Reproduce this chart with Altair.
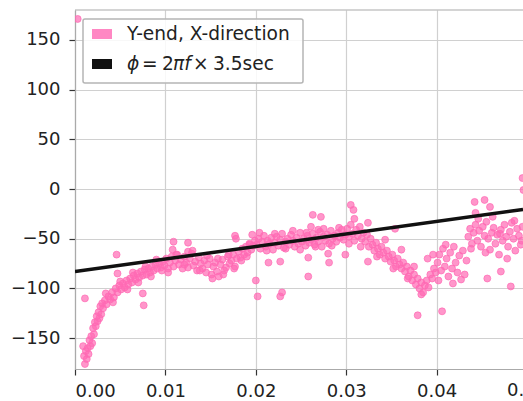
import altair as alt
import pandas as pd

# ---- measured phase of the Y-end response, X-direction excitation ----
# early steep rise
start_x = [0.0003, 0.0009, 0.0010, 0.0011, 0.0011, 0.0012, 0.0013, 0.0014, 0.0015, 0.0016,
           0.0017, 0.0018, 0.0019, 0.0020, 0.0021, 0.0022, 0.0023, 0.0024, 0.0025, 0.0026,
           0.0027, 0.0028, 0.0029, 0.0030]
start_y = [171, -158, -168, -176, -110, -163, -171, -160, -166, -152,
           -158, -148, -155, -140, -146, -134, -138, -128, -133, -124,
           -130, -118, -126, -115]

rise_x = [0.0031, 0.0033, 0.0035, 0.0037, 0.0039, 0.0041, 0.0043, 0.0045, 0.0047, 0.0049,
          0.0051, 0.0053, 0.0055, 0.0057, 0.0059, 0.0061, 0.0063, 0.0065, 0.0067, 0.0069,
          0.0071, 0.0073, 0.0075, 0.0077, 0.0079, 0.0081, 0.0083, 0.0085, 0.0087, 0.0089,
          0.0091, 0.0093, 0.0095, 0.0097, 0.0099,
          0.0034, 0.0042, 0.0050, 0.0058, 0.0064, 0.0070, 0.0078, 0.0084, 0.0090, 0.0096,
          0.0046, 0.0047, 0.0076, 0.0075]
rise_y = [-120, -112, -116, -108, -111, -104, -109, -100, -104, -97,
          -101, -95, -99, -92, -96, -90, -94, -87, -91, -85,
          -89, -83, -87, -81, -86, -80, -84, -78, -82, -76,
          -80, -75, -79, -73, -77,
          -105, -114, -93, -101, -84, -94, -78, -88, -71, -82,
          -66, -85, -117, -105]

band1_x = [0.0101, 0.0103, 0.0105, 0.0107, 0.0109, 0.0111, 0.0113, 0.0115, 0.0117, 0.0119,
           0.0121, 0.0123, 0.0125, 0.0127, 0.0129, 0.0131, 0.0133, 0.0135, 0.0137, 0.0139,
           0.0141, 0.0143, 0.0145, 0.0147, 0.0149, 0.0151, 0.0153, 0.0155, 0.0157, 0.0159,
           0.0161, 0.0163, 0.0165, 0.0167, 0.0169, 0.0171, 0.0173, 0.0175, 0.0177, 0.0179,
           0.0181, 0.0183, 0.0185, 0.0187, 0.0189, 0.0191, 0.0193, 0.0195, 0.0197, 0.0199,
           0.0103, 0.0112, 0.0121, 0.0130, 0.0138, 0.0146, 0.0152, 0.0158, 0.0164, 0.0170,
           0.0176, 0.0184, 0.0190,
           0.0109, 0.0108, 0.0125, 0.0125, 0.0177, 0.0178, 0.0196, 0.0193, 0.0200, 0.0202]
band1_y = [-70, -80, -74, -68, -78, -72, -66, -76, -71, -80,
           -68, -74, -79, -70, -65, -77, -73, -82, -69, -75,
           -80, -72, -84, -76, -70, -86, -78, -74, -83, -88,
           -76, -71, -82, -79, -68, -75, -72, -66, -78, -70,
           -63, -69, -60, -66, -58, -64, -55, -61, -57, -52,
           -84, -66, -76, -62, -82, -67, -90, -70, -86, -66,
           -80, -72, -68,
           -53, -61, -54, -63, -47, -50, -46, -56, -92, -108]

band2_x = [0.0201, 0.0203, 0.0205, 0.0207, 0.0209, 0.0211, 0.0213, 0.0215, 0.0217, 0.0219,
           0.0221, 0.0223, 0.0225, 0.0227, 0.0229, 0.0231, 0.0233, 0.0235, 0.0237, 0.0239,
           0.0241, 0.0243, 0.0245, 0.0247, 0.0249, 0.0251, 0.0253, 0.0255, 0.0257, 0.0259,
           0.0261, 0.0263, 0.0265, 0.0267, 0.0269, 0.0271, 0.0273, 0.0275, 0.0277, 0.0279,
           0.0281, 0.0283, 0.0285, 0.0287, 0.0289, 0.0291, 0.0293, 0.0295, 0.0297, 0.0299,
           0.0204, 0.0212, 0.0221, 0.0233, 0.0241, 0.0249, 0.0256, 0.0266, 0.0275, 0.0284,
           0.0292,
           0.0263, 0.0272, 0.0261, 0.0269, 0.0214, 0.0227, 0.0258, 0.0258, 0.0280, 0.0281,
           0.0299, 0.0227, 0.0229]
band2_y = [-56, -50, -60, -53, -47, -58, -52, -55, -49, -61,
           -54, -48, -57, -51, -45, -59, -53, -50, -56, -46,
           -52, -58, -49, -55, -44, -53, -50, -57, -47, -54,
           -51, -45, -56, -49, -53, -43, -58, -48, -52, -46,
           -55, -42, -50, -47, -53, -44, -49, -41, -51, -46,
           -44, -62, -45, -60, -42, -61, -44, -58, -40, -57,
           -39,
           -26, -28, -38, -41, -74, -73, -69, -88, -65, -74,
           -66, -108, -104]

band3_x = [0.0301, 0.0303, 0.0305, 0.0307, 0.0309, 0.0311, 0.0313, 0.0315, 0.0317, 0.0319,
           0.0321, 0.0323, 0.0325, 0.0327, 0.0329, 0.0331, 0.0333, 0.0335, 0.0337, 0.0339,
           0.0341, 0.0343, 0.0345, 0.0347, 0.0349, 0.0351, 0.0353, 0.0355, 0.0357, 0.0359,
           0.0361, 0.0363, 0.0365, 0.0367, 0.0369, 0.0371, 0.0373, 0.0375, 0.0377, 0.0379,
           0.0381, 0.0383, 0.0385, 0.0387, 0.0389, 0.0391, 0.0393, 0.0395, 0.0397, 0.0399,
           0.0303, 0.0309, 0.0316, 0.0324, 0.0334, 0.0343, 0.0352, 0.0361, 0.0368, 0.0375,
           0.0383, 0.0390, 0.0396,
           0.0305, 0.0308, 0.0379, 0.0324, 0.0354]
band3_y = [-40, -48, -36, -45, -52, -41, -47, -38, -50, -44,
           -53, -46, -58, -50, -56, -62, -54, -60, -66, -58,
           -64, -70, -62, -68, -73, -66, -72, -78, -70, -76,
           -80, -74, -83, -78, -88, -82, -92, -86, -96, -90,
           -100, -94, -104, -97, -92, -99, -86, -90, -80, -84,
           -55, -30, -58, -34, -68, -51, -80, -61, -90, -78,
           -106, -70, -66,
           -16, -21, -127, -73, -40]

band4_x = [0.0401, 0.0403, 0.0405, 0.0407, 0.0409, 0.0411, 0.0413, 0.0415, 0.0417, 0.0419,
           0.0421, 0.0423, 0.0425, 0.0427, 0.0429, 0.0431, 0.0433, 0.0402, 0.0410, 0.0418,
           0.0435, 0.0437, 0.0439, 0.0441, 0.0443, 0.0445, 0.0447, 0.0449, 0.0451, 0.0453,
           0.0455, 0.0457, 0.0459, 0.0461, 0.0463, 0.0465, 0.0467, 0.0469, 0.0471, 0.0473,
           0.0475, 0.0477, 0.0479, 0.0481, 0.0483, 0.0485, 0.0487, 0.0489, 0.0491, 0.0493,
           0.0495, 0.0438, 0.0446, 0.0454, 0.0462, 0.0470, 0.0478, 0.0486, 0.0494,
           0.0442, 0.0453, 0.0443, 0.0459, 0.0495, 0.0496, 0.0456, 0.0471, 0.0482, 0.0406]
band4_y = [-74, -66, -82, -60, -78, -70, -88, -64, -80, -58,
           -74, -84, -67, -91, -62, -86, -72, -92, -56, -95,
           -48, -40, -55, -44, -36, -52, -42, -58, -38, -47,
           -33, -50, -61, -44, -39, -55, -46, -66, -41, -52,
           -36, -48, -58, -43, -34, -50, -62, -40, -47, -56,
           -38, -60, -30, -64, -28, -45, -70, -32, -52,
           -13, -11, -24, -18, 11, -1, -90, -83, -98, -123]

# reference phase line  phi = 2*pi*f*3.5 s (degrees, offset)
line_x = [0.0, 0.04955]
line_y = [-83.0, -20.6]

x_ticks = [0.00, 0.01, 0.02, 0.03, 0.04]
y_ticks = [-150, -100, -50, 0, 50, 100, 150]
X_MAX = 0.04955
Y_DOMAIN = [-181, 180]

W, H = 448, 359
PINK = "#ff69b4"
INK = "#222222"
FONT = "DejaVu Sans"
FS = 18
LEG_FS = 18.6

pts = pd.DataFrame({
    "x": start_x + rise_x + band1_x + band2_x + band3_x + band4_x,
    "y": start_y + rise_y + band1_y + band2_y + band3_y + band4_y,
})
line_df = pd.DataFrame({"x": line_x, "y": line_y})
one = pd.DataFrame({"k": [0]})

x_enc = alt.X("x:Q", scale=alt.Scale(domain=[0, X_MAX], nice=False, zero=False),
              axis=alt.Axis(values=x_ticks, format=".2f", title=None, labelPadding=7))
y_enc = alt.Y("y:Q", scale=alt.Scale(domain=Y_DOMAIN, nice=False, zero=False),
              axis=alt.Axis(values=y_ticks, format="d", title=None, labelPadding=9))

points = alt.Chart(pts).mark_circle(
    size=48, color=PINK, fillOpacity=0.7, stroke=PINK, strokeOpacity=0.7,
    strokeWidth=1, clip=True
).encode(x=x_enc, y=y_enc)

phase_line = alt.Chart(line_df).mark_line(
    color="#111111", strokeWidth=3.5, clip=True
).encode(x="x:Q", y="y:Q")

# top spine of the frame
top_spine = alt.Chart(one).mark_rule(color="#aaaaaa", strokeWidth=1.2).encode(
    x=alt.value(0), x2=alt.value(W), y=alt.value(0))

# partially visible tick label at the right edge
edge_label = alt.Chart(one).mark_text(
    text="0.05", font=FONT, fontSize=FS, color=INK, align="center", baseline="top"
).encode(x=alt.datum(0.05), y=alt.value(H + 13))

# legend drawn by hand so the formula can mix upright and italic glyphs
legend_box = alt.Chart(one).mark_rect(
    fill="white", fillOpacity=0.85, stroke="#b5b5b5", strokeWidth=1.5, cornerRadius=2
).encode(x=alt.value(8), x2=alt.value(228), y=alt.value(9), y2=alt.value(73))
sw_pink = alt.Chart(one).mark_rect(fill=PINK, fillOpacity=0.8).encode(
    x=alt.value(17), x2=alt.value(37), y=alt.value(19), y2=alt.value(29))
sw_black = alt.Chart(one).mark_rect(fill="#111111").encode(
    x=alt.value(17), x2=alt.value(37), y=alt.value(49), y2=alt.value(59))


def legend_text(txt, x, y, italic=False):
    return alt.Chart(one).mark_text(
        text=txt, font=FONT, fontSize=LEG_FS, color=INK, align="left", baseline="middle",
        fontStyle="italic" if italic else "normal"
    ).encode(x=alt.value(x), y=alt.value(y))


legend = [
    legend_box, sw_pink, sw_black,
    legend_text("Y-end, X-direction", 52, 24),
    legend_text("ϕ", 52, 54, italic=True),
    legend_text("=", 67, 54),
    legend_text("2", 87, 54),
    legend_text("πf", 98, 54, italic=True),
    legend_text("×", 118, 54),
    legend_text("3.5sec", 138, 54),
]

chart = alt.layer(points, phase_line, top_spine, edge_label, *legend).properties(
    width=W, height=H,
    padding={"left": 75, "top": 10, "right": 0, "bottom": 32},
    autosize=alt.AutoSizeParams(type="none"),
).configure_view(stroke=None).configure_axis(
    labelFont=FONT, labelFontSize=FS, labelColor=INK,
    tickColor="#333333", tickSize=6, tickWidth=1.2,
    domainColor="#aaaaaa", domainWidth=1.2,
    gridColor="#d0d0d0", gridWidth=1.2,
)

chart.save("out.html", embed_options={"renderer": "svg", "actions": False})
